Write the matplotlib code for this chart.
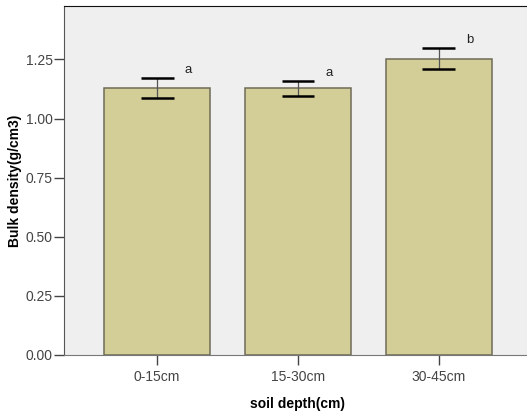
import matplotlib.pyplot as plt
import numpy as np

plt.rcParams['font.family'] = ['Liberation Sans', 'DejaVu Sans']

depths = ['0-15cm', '15-30cm', '30-45cm']
means = [1.129, 1.129, 1.253]
err_low = [0.042, 0.034, 0.045]
err_high = [0.043, 0.031, 0.046]
letters = ['a', 'a', 'b']
yticks = [0.00, 0.25, 0.50, 0.75, 1.00, 1.25]

fig = plt.figure(figsize=(5.27, 4.12), dpi=100)
ax = fig.add_axes([64 / 527, 57 / 412, 468 / 527, 349 / 412])
ax.set_facecolor('#efefef')

x = np.arange(len(depths))
ax.bar(x, means, width=0.75, color='#d3ce98', edgecolor='#6e6b58', linewidth=1.1, zorder=2)

# thin stem + heavy caps, like SPSS
ax.errorbar(x, means, yerr=[err_low, err_high], fmt='none', ecolor='#555555',
            elinewidth=0.9, capsize=0, zorder=3)
lows = np.array(means) - np.array(err_low)
highs = np.array(means) + np.array(err_high)
for xi, lo, hi in zip(x, lows, highs):
    ax.plot([xi - 0.117, xi + 0.117], [hi, hi], color='black', lw=1.8, zorder=4, solid_capstyle='butt')
    ax.plot([xi - 0.117, xi + 0.117], [lo, lo], color='black', lw=1.8, zorder=4, solid_capstyle='butt')

for xi, hi, lt in zip(x, highs, letters):
    ax.text(xi + 0.22, hi + 0.033, lt, fontsize=9.5, color='#222222', ha='center', va='center')

ax.set_xlim(-0.66, 2.66)
ax.set_ylim(0, 1.476)
ax.set_xticks(x)
ax.set_xticklabels(depths)
ax.set_yticks(yticks)
ax.set_yticklabels([f'{v:.2f}' for v in yticks])
ax.tick_params(axis='both', labelsize=10, labelcolor='#444444', color='#444444', length=7, width=1)
ax.tick_params(axis='x', pad=4)
ax.tick_params(axis='y', pad=1)

ax.set_xlabel('soil depth(cm)', fontsize=10, fontweight='bold', labelpad=9)
ax.set_ylabel('Bulk density(g/cm3)', fontsize=10, fontweight='bold', labelpad=3)

ax.spines['top'].set_color('#111111')
ax.spines['left'].set_color('#555555')
ax.spines['bottom'].set_color('#777777')
ax.spines['right'].set_visible(False)

fig.savefig('out.png', dpi=100)
